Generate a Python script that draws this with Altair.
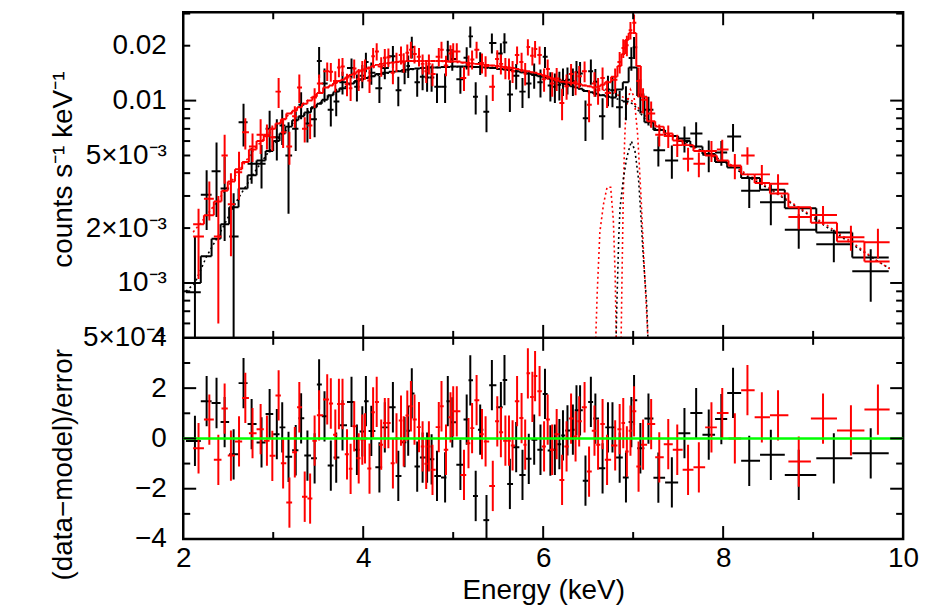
import altair as alt
import numpy as np
import pandas as pd

# ---------------- data ----------------
BLACK_E = [2.13, 2.26, 2.37, 2.46, 2.56, 2.67, 2.76, 2.87, 2.96, 3.04,
           3.10, 3.17, 3.25, 3.31, 3.38, 3.46, 3.51, 3.57, 3.64, 3.70,
           3.77, 3.87, 3.93, 3.99, 4.03, 4.09, 4.18, 4.24, 4.33, 4.39,
           4.46, 4.50, 4.54, 4.60, 4.66, 4.71, 4.76, 4.82, 4.91, 4.94,
           4.99, 5.08, 5.15, 5.19, 5.25, 5.30, 5.37, 5.43, 5.53, 5.57,
           5.63, 5.70, 5.77, 5.84, 5.90, 5.97, 6.02, 6.08, 6.13, 6.18,
           6.22, 6.27, 6.33, 6.37, 6.41, 6.47, 6.53, 6.58, 6.66, 6.72,
           6.77, 6.85, 6.92, 6.98, 7.01, 7.08, 7.17, 7.28, 7.43, 7.57,
           7.70, 7.84, 7.98, 8.11, 8.29, 8.53, 8.84, 9.23, 9.64]
BLACK_FIRST_LO = 2.03
BLACK_LAST_HI = 9.84
BLACK_MODEL = [1.0e-3, 1.4e-3, 1.75e-3, 2.1e-3, 2.6e-3, 3.3e-3, 3.9e-3, 4.7e-3, 5.3e-3, 6.0e-3,
               6.6e-3, 7.2e-3, 7.8e-3, 8.2e-3, 8.6e-3, 9.2e-3, 9.6e-3, 0.0101, 0.0107, 0.0112,
               0.0117, 0.0124, 0.0128, 0.0131, 0.0133, 0.0136, 0.0140, 0.0142, 0.0144, 0.0145,
               0.0147, 0.0148, 0.0149, 0.0150, 0.0151, 0.0151, 0.0152, 0.0152, 0.0153, 0.0153,
               0.0154, 0.0154, 0.0154, 0.0154, 0.0153, 0.0153, 0.0152, 0.0151, 0.0149, 0.0148,
               0.0147, 0.0145, 0.0143, 0.0141, 0.0139, 0.0136, 0.0134, 0.0132, 0.0129, 0.0127,
               0.0125, 0.0123, 0.0120, 0.0118, 0.0116, 0.0113, 0.0111, 0.0109, 0.0107, 0.0105,
               0.0104, 0.0115, 0.0126, 0.0152, 0.0152, 0.0106, 0.0076, 0.0069, 0.0064, 0.0060,
               0.0056, 0.0051, 0.0046, 0.0043, 0.00376, 0.00324, 0.00257, 0.00189, 0.00138]
BLACK_RATE = [8.9e-4, 3.05e-3, 4.1e-3, 3.3e-3, 1.8e-3, 7.6e-3, 4.5e-3, 4.5e-3, 7.0e-3, 6.3e-3,
              7.3e-3, 5.0e-3, 7.0e-3, 9.5e-3, 7.5e-3, 7.9e-3, 0.0165, 0.0124, 8.9e-3, 9.9e-3,
              0.0126, 0.0151, 0.0119, 0.0137, 0.0163, 0.0142, 0.0117, 0.0151, 0.0175, 0.0114,
              0.0144, 0.0155, 0.0197, 0.0126, 0.0135, 0.0134, 0.0134, 0.0119, 0.0119, 0.0189,
              0.0169, 0.0131, 0.0172, 0.0225, 0.0105, 0.0161, 0.0087, 0.0207, 0.0181, 0.0208,
              0.0108, 0.0137, 0.0112, 0.0124, 0.0138, 0.0126, 0.0174, 0.0121, 0.0119, 0.0122,
              0.0128, 0.0130, 0.0128, 0.0143, 0.0141, 0.0080, 0.0145, 0.0127, 0.0082, 0.0115,
              0.0114, 0.0092, 0.0099, 0.0171, 0.0196, 0.0108, 0.0089, 0.00535, 0.0047, 0.0062,
              0.0066, 0.00505, 0.0052, 0.00635, 0.0032, 0.00277, 0.00196, 0.00163, 0.00116]
BLACK_ERR = [9.0e-4, 1.1e-3, 1.8e-3, 1.6e-3, 1.3e-3, 2.0e-3, 1.0e-3, 1.2e-3, 1.8e-3, 1.6e-3,
             1.6e-3, 2.6e-3, 1.7e-3, 1.6e-3, 1.6e-3, 1.6e-3, 3.2e-3, 2.6e-3, 1.7e-3, 1.7e-3,
             1.8e-3, 1.9e-3, 2.0e-3, 2.0e-3, 2.0e-3, 2.0e-3, 2.0e-3, 2.0e-3, 2.4e-3, 2.1e-3,
             2.1e-3, 2.2e-3, 2.7e-3, 2.1e-3, 2.1e-3, 2.2e-3, 2.2e-3, 2.2e-3, 2.2e-3, 2.4e-3,
             2.3e-3, 2.2e-3, 2.4e-3, 3.0e-3, 2.1e-3, 2.3e-3, 2.0e-3, 2.6e-3, 2.5e-3, 2.6e-3,
             2.15e-3, 2.2e-3, 2.1e-3, 2.1e-3, 2.2e-3, 2.2e-3, 2.3e-3, 2.2e-3, 2.2e-3, 2.2e-3,
             2.2e-3, 2.2e-3, 2.2e-3, 2.2e-3, 2.2e-3, 2.0e-3, 2.3e-3, 2.2e-3, 2.1e-3, 2.2e-3,
             2.2e-3, 2.1e-3, 2.1e-3, 2.5e-3, 2.7e-3, 2.3e-3, 1.6e-3, 1.0e-3, 0.97e-3, 1.0e-3,
             1.0e-3, 1.0e-3, 0.8e-3, 1.1e-3, 0.62e-3, 0.7e-3, 0.42e-3, 0.33e-3, 0.37e-3]
BLACK_RESID = [-0.10, 1.48, 1.41, 0.65, -0.63, 2.20, 0.57, -0.16, 0.97, 0.17,
               0.44, -0.73, -0.47, 0.80, -0.68, -0.79, 2.15, 0.88, -1.08, -0.76,
               0.52, 1.45, -0.45, 0.28, 1.48, 0.30, -1.15, 0.44, 1.24, -1.49,
               -0.15, 0.31, 1.79, -1.12, -0.76, -0.76, -0.83, -1.49, -1.55, 1.48,
               0.64, -1.05, 0.75, 2.31, -2.29, 0.35, -3.25, 2.12, 1.24, 2.32,
               -1.81, -0.35, -1.45, -0.81, -0.05, -0.45, 1.77, -0.48, -0.45, -0.23,
               0.12, 0.32, 0.35, 1.12, 1.12, -1.68, 1.45, 0.79, -1.19, 0.44,
               0.44, -0.76, -1.55, 0.65, 1.52, -0.39, 0.79, -1.56, -1.75, 0.21,
               1.01, 0.15, 0.77, 1.81, -0.89, -0.65, -1.45, -0.79, -0.59]

RED_E = [2.17, 2.29, 2.39, 2.46, 2.53, 2.62, 2.69, 2.77, 2.86, 2.93,
         2.99, 3.06, 3.11, 3.18, 3.24, 3.29, 3.35, 3.41, 3.46, 3.51,
         3.60, 3.64, 3.69, 3.73, 3.77, 3.82, 3.86, 3.90, 3.95, 3.99,
         4.02, 4.07, 4.11, 4.15, 4.20, 4.24, 4.28, 4.33, 4.37, 4.42,
         4.45, 4.49, 4.53, 4.57, 4.62, 4.66, 4.70, 4.73, 4.77, 4.84,
         4.87, 4.92, 4.97, 5.00, 5.04, 5.12, 5.17, 5.21, 5.26, 5.32,
         5.36, 5.44, 5.49, 5.53, 5.58, 5.62, 5.66, 5.71, 5.76, 5.80,
         5.83, 5.88, 5.91, 5.96, 6.01, 6.05, 6.10, 6.15, 6.21, 6.26,
         6.31, 6.36, 6.40, 6.46, 6.51, 6.57, 6.61, 6.66, 6.71, 6.80,
         6.85, 6.89, 6.93, 6.97, 7.01, 7.06, 7.11, 7.20, 7.29, 7.39,
         7.49, 7.61, 7.73, 7.87, 7.99, 8.13, 8.27, 8.43, 8.61, 8.84,
         9.11, 9.42, 9.72]
RED_FIRST_LO = 2.11
RED_LAST_HI = 9.85
RED_MODEL = [2.1e-3, 2.35e-3, 2.8e-3, 3.2e-3, 3.6e-3, 4.2e-3, 4.6e-3, 5.4e-3, 6.0e-3, 6.5e-3,
             7.0e-3, 7.5e-3, 7.9e-3, 8.5e-3, 8.8e-3, 9.2e-3, 9.6e-3, 0.0100, 0.0105, 0.0110,
             0.0118, 0.0121, 0.0125, 0.0128, 0.0130, 0.0134, 0.0138, 0.0141, 0.0145, 0.0147,
             0.0149, 0.0152, 0.0155, 0.0157, 0.0159, 0.0160, 0.0161, 0.0162, 0.0163, 0.0164,
             0.0164, 0.0165, 0.0165, 0.0165, 0.0165, 0.0165, 0.0165, 0.0165, 0.0165, 0.0165,
             0.0165, 0.0165, 0.0164, 0.0164, 0.0164, 0.0162, 0.0161, 0.0160, 0.0159, 0.0158,
             0.0157, 0.0156, 0.0155, 0.0154, 0.0153, 0.0152, 0.0151, 0.0149, 0.0147, 0.0146,
             0.0145, 0.0143, 0.0142, 0.0140, 0.0137, 0.0135, 0.0132, 0.0129, 0.0127, 0.0126,
             0.0125, 0.0124, 0.0123, 0.0121, 0.0120, 0.0118, 0.0119, 0.0122, 0.0126, 0.0135,
             0.0155, 0.0180, 0.0215, 0.0235, 0.0235, 0.0155, 0.0105, 0.0077, 0.0072, 0.0066,
             0.00605, 0.0057, 0.0053, 0.0050, 0.0047, 0.0044, 0.00394, 0.00353, 0.00309, 0.0026,
             0.00214, 0.00169, 0.00131]
RED_RATE = [1.8e-3, 2.9e-3, 1.8e-3, 5.0e-3, 2.7e-3, 4.05e-3, 6.7e-3, 5.6e-3, 6.5e-3, 6.4e-3,
            6.3e-3, 0.0112, 6.7e-3, 5.6e-3, 8.2e-3, 0.0118, 7.0e-3, 7.3e-3, 0.0104, 0.0124,
            0.0145, 0.0144, 0.0128, 0.0152, 0.0154, 0.0123, 0.0117, 0.0150, 0.0131, 0.0146,
            0.0149, 0.0129, 0.0175, 0.0186, 0.0154, 0.0172, 0.0173, 0.0142, 0.0163, 0.0178,
            0.0162, 0.0183, 0.0190, 0.0180, 0.0174, 0.0159, 0.0145, 0.0159, 0.0140, 0.0174,
            0.0190, 0.0156, 0.0181, 0.0186, 0.0186, 0.0133, 0.0157, 0.0168, 0.0190, 0.0161,
            0.0155, 0.0119, 0.0169, 0.0159, 0.0151, 0.0150, 0.0145, 0.0178, 0.0163, 0.0141,
            0.0197, 0.0176, 0.0192, 0.0178, 0.0131, 0.0149, 0.0124, 0.0132, 0.0097, 0.0120,
            0.0140, 0.0126, 0.0136, 0.0145, 0.0095, 0.0124, 0.0114, 0.0133, 0.0110, 0.0130,
            0.0163, 0.0194, 0.0201, 0.0243, 0.0267, 0.0128, 0.0101, 0.0085, 0.0065, 0.0064,
            0.0057, 0.0048, 0.0045, 0.0053, 0.0054, 0.0044, 0.0050, 0.00394, 0.0035, 0.0023,
            0.00236, 0.00178, 0.00167]
RED_ERR = [0.75e-3, 0.7e-3, 1.2e-3, 1.5e-3, 1.3e-3, 1.2e-3, 1.3e-3, 1.0e-3, 1.4e-3, 1.0e-3,
           1.0e-3, 2.1e-3, 1.2e-3, 1.15e-3, 1.1e-3, 2.1e-3, 1.1e-3, 1.15e-3, 1.3e-3, 1.5e-3,
           1.7e-3, 1.7e-3, 1.7e-3, 1.75e-3, 1.75e-3, 1.75e-3, 1.75e-3, 1.8e-3, 1.8e-3, 1.9e-3,
           1.9e-3, 1.9e-3, 1.95e-3, 2.0e-3, 1.9e-3, 2.0e-3, 2.0e-3, 1.9e-3, 2.0e-3, 2.0e-3,
           2.0e-3, 2.0e-3, 2.0e-3, 2.0e-3, 2.0e-3, 2.0e-3, 2.0e-3, 2.0e-3, 2.0e-3, 2.0e-3,
           2.0e-3, 2.0e-3, 2.0e-3, 2.0e-3, 2.0e-3, 2.0e-3, 2.0e-3, 2.0e-3, 2.0e-3, 2.0e-3,
           2.0e-3, 1.95e-3, 2.0e-3, 2.0e-3, 2.0e-3, 2.0e-3, 2.0e-3, 2.0e-3, 2.0e-3, 2.0e-3,
           2.0e-3, 2.0e-3, 2.0e-3, 2.0e-3, 1.9e-3, 1.9e-3, 1.9e-3, 1.9e-3, 1.9e-3, 1.9e-3,
           1.9e-3, 1.9e-3, 1.9e-3, 1.9e-3, 1.9e-3, 1.9e-3, 1.9e-3, 1.9e-3, 1.9e-3, 2.0e-3,
           2.2e-3, 2.3e-3, 2.6e-3, 2.7e-3, 3.0e-3, 2.4e-3, 1.6e-3, 1.4e-3, 0.9e-3, 0.9e-3,
           0.8e-3, 0.72e-3, 0.7e-3, 0.7e-3, 0.7e-3, 0.7e-3, 0.55e-3, 0.49e-3, 0.45e-3, 0.33e-3,
           0.28e-3, 0.28e-3, 0.31e-3]
RED_RESID = [-0.39, 0.75, -0.85, 1.19, -0.68, -0.12, 1.61, 0.21, 0.37, -0.09,
             -0.69, 1.71, -0.99, -2.55, -0.55, 1.24, -2.32, -2.39, -0.09, 0.92,
             1.55, 1.39, 0.15, 1.37, 1.37, -0.63, -1.21, 0.48, -0.79, -0.05,
             0.00, -1.20, 1.04, 1.45, -0.25, 0.61, 0.61, -0.99, 0.00, 0.71,
             -0.12, 0.91, 1.28, 0.75, 0.45, -0.32, -1.01, -0.32, -1.25, 0.45,
             1.28, -0.45, 0.84, 1.08, 1.08, -1.45, -0.19, 0.41, 1.52, 0.17,
             -0.12, -1.89, 0.68, 0.25, -0.09, -0.09, -0.28, 1.48, 0.81, -0.25,
             2.59, 1.65, 2.48, 1.88, -0.32, 0.75, -0.45, 0.17, -1.65, -0.32,
             0.79, 0.08, 0.68, 1.24, -1.32, 0.31, -0.25, 0.57, -0.85, -0.28,
             0.37, 0.61, -0.52, 0.31, 1.08, -1.12, -0.25, 0.57, -0.75, -0.23,
             -0.45, -1.25, -1.15, 0.44, 1.01, 0.00, 1.92, 0.84, 0.92, -0.92,
             0.79, 0.32, 1.15]

# continuum components (dotted)
BLACK_CONT_E = [2.03, 2.13, 2.26, 2.40, 2.60, 2.80, 3.00, 3.20, 3.40, 3.60,
                3.80, 4.00, 4.40, 4.80, 5.20, 5.60, 6.00, 6.40, 6.80, 7.00,
                7.10, 7.20, 7.40, 7.60, 7.80, 8.00, 8.30, 8.55, 8.85, 9.25,
                9.65, 9.85]
BLACK_CONT = [9.0e-4, 1.0e-3, 1.4e-3, 1.85e-3, 2.85e-3, 4.1e-3, 5.7e-3, 7.4e-3, 8.8e-3, 0.0104,
              0.0119, 0.0132, 0.0146, 0.0152, 0.0154, 0.0148, 0.0135, 0.0116, 0.0103, 0.0096,
              0.0083, 0.0072, 0.0065, 0.0059, 0.0052, 0.00465, 0.00376, 0.0032, 0.00255, 0.00188,
              0.00138, 0.0012]
RED_CONT_E = [2.11, 2.20, 2.40, 2.60, 2.80, 3.00, 3.20, 3.40, 3.60, 3.80,
              4.00, 4.40, 4.80, 5.20, 5.60, 6.00, 6.40, 6.60, 6.80, 7.00,
              7.10, 7.20, 7.40, 7.60, 7.80, 8.00, 8.27, 8.43, 8.61, 8.84,
              9.11, 9.42, 9.72, 9.85]
RED_CONT = [1.9e-3, 2.15e-3, 2.9e-3, 4.0e-3, 5.5e-3, 7.0e-3, 8.6e-3, 0.0102, 0.0118, 0.0132,
            0.0147, 0.0164, 0.0165, 0.0160, 0.0152, 0.0138, 0.0123, 0.0117, 0.0109, 0.0099,
            0.0086, 0.0076, 0.0065, 0.00575, 0.00515, 0.0047, 0.00394, 0.00353, 0.00309, 0.0026,
            0.00214, 0.00169, 0.00131, 0.0012]
# Gaussian line components (dotted)
RED_G1_E = [6.57, 6.60, 6.63, 6.67, 6.71, 6.75, 6.78, 6.80, 6.82]
RED_G1 = [3e-4, 8.7e-4, 1.9e-3, 2.7e-3, 3.35e-3, 3.35e-3, 2.2e-3, 1.1e-3, 3e-4]
RED_G2_E = [6.86, 6.875, 6.89, 6.905, 6.92, 6.97, 7.01, 7.05, 7.09, 7.12, 7.16, 7.18]
RED_G2 = [3e-4, 1.0e-3, 3.0e-3, 6.0e-3, 9.0e-3, 0.0115, 0.0105, 6.5e-3, 2.8e-3, 1.3e-3, 5.5e-4, 3e-4]
BLACK_G_E = [6.80, 6.82, 6.84, 6.855, 6.89, 6.93, 6.98, 7.02, 7.06, 7.08, 7.11, 7.15, 7.18]
BLACK_G = [3e-4, 8e-4, 1.8e-3, 2.6e-3, 3.7e-3, 4.9e-3, 6.0e-3, 5.3e-3, 3.7e-3, 2.6e-3, 1.45e-3, 7.7e-4, 3e-4]

# axes
X_DOMAIN = [2, 10]
X_LABELS = [2, 4, 6, 8, 10]
X_MAJOR = [4, 6, 8]
X_MINOR = [3, 5, 7, 9]
TOP_DOMAIN = [5e-4, 0.0305]
TOP_LABEL_VALUES = [5e-4, 1e-3, 2e-3, 5e-3, 0.01, 0.02]
TOP_LABEL_TEXT = ["5×10⁻⁴", "10⁻³", "2×10⁻³", "5×10⁻³", "0.01", "0.02"]
TOP_MAJOR = [1e-3, 1e-2]
TOP_MINOR = [6e-4, 7e-4, 8e-4, 9e-4, 2e-3, 3e-3, 4e-3, 5e-3, 6e-3, 7e-3, 8e-3, 9e-3, 0.02, 0.03]
RES_DOMAIN = [-4, 4]
RES_LABELS = [-4, -2, 0, 2, 4]
RES_MAJOR = [-2, 0, 2]
RES_MINOR = [-3, -1, 1, 3]

W, H1, H2 = 723, 327, 202
FONT = "Liberation Sans"
FS = 28
MAJ, MIN = 13, 7


def make_df(E, rate, err, model, resid, first_lo, last_hi):
    E = np.asarray(E, float)
    mids = (E[:-1] + E[1:]) / 2
    df = pd.DataFrame(dict(E=E, lo=np.r_[first_lo, mids], hi=np.r_[mids, last_hi],
                           rate=rate, err=err, model=model, resid=resid))
    df["ylo"] = np.maximum(df["rate"] - df["err"], 1e-4)
    df["yhi"] = df["rate"] + df["err"]
    df["rlo"] = df["resid"] - 1
    df["rhi"] = df["resid"] + 1
    return df


black = make_df(BLACK_E, BLACK_RATE, BLACK_ERR, BLACK_MODEL, BLACK_RESID, BLACK_FIRST_LO, BLACK_LAST_HI)
red = make_df(RED_E, RED_RATE, RED_ERR, RED_MODEL, RED_RESID, RED_FIRST_LO, RED_LAST_HI)

XS = alt.Scale(domain=X_DOMAIN, nice=False, zero=False)
YS_TOP = alt.Scale(type="log", domain=TOP_DOMAIN, nice=False)
YS_RES = alt.Scale(domain=RES_DOMAIN, nice=False, zero=False)

expr_parts = []
bounds = [7e-4, 1.5e-3, 3e-3, 7e-3, 0.015]
for b, t in zip(bounds, TOP_LABEL_TEXT[:-1]):
    expr_parts.append(f"datum.value < {b} ? '{t}' : ")
top_label_expr = "".join(expr_parts) + f"'{TOP_LABEL_TEXT[-1]}'"

TOP_Y_AXIS = alt.Axis(values=TOP_LABEL_VALUES, labelExpr=top_label_expr, ticks=False, domain=False,
                      grid=False, labelFont=FONT, labelFontSize=FS, labelColor="black", labelPadding=17,
                      labelOverlap=False, title="counts s⁻¹ keV⁻¹", titleFont=FONT, titleFontSize=FS,
                      titleFontWeight="normal", titleColor="black", titleX=-120, titleY=H1 / 2 - 6,
                      titleAngle=270, titleBaseline="middle", titleAlign="center")
RES_Y_AXIS = alt.Axis(values=RES_LABELS, labelExpr="datum.value < 0 ? '−' + abs(datum.value) : '' + datum.value",
                      ticks=False, domain=False, grid=False, labelFont=FONT, labelFontSize=FS,
                      labelColor="black", labelPadding=17, labelOverlap=False,
                      title="(data−model)/error", titleFont=FONT, titleFontSize=FS, titleFontWeight="normal",
                      titleColor="black", titleX=-120, titleY=H2 / 2 + 26, titleAngle=270,
                      titleBaseline="middle", titleAlign="center")
RES_X_AXIS = alt.Axis(values=X_LABELS, format="d", ticks=False, domain=False, grid=False, labelFont=FONT,
                      labelFontSize=FS, labelColor="black", labelPadding=6, labelFlush=False,
                      labelOverlap=False, title="Energy (keV)", titleFont=FONT, titleFontSize=FS,
                      titleFontWeight="normal", titleColor="black", titlePadding=4)


def xt(f):
    return alt.X(f"{f}:Q", scale=XS, axis=None)


def xr(f):
    return alt.X(f"{f}:Q", scale=XS, axis=RES_X_AXIS)


def yt(f):
    return alt.Y(f"{f}:Q", scale=YS_TOP, axis=TOP_Y_AXIS)


def yr(f):
    return alt.Y(f"{f}:Q", scale=YS_RES, axis=RES_Y_AXIS)


def rule(df, color, width=2):
    return alt.Chart(df).mark_rule(color=color, strokeWidth=width, clip=True)


def dotted(E, v, color):
    d = pd.DataFrame({"E": E, "v": v})
    return alt.Chart(d).mark_line(color=color, strokeWidth=1.6, strokeDash=[2, 3], clip=True).encode(
        x=xt("E"), y=yt("v"))


def spectrum(df, color):
    return [
        rule(df, color).encode(x=xt("lo"), x2="hi:Q", y=yt("rate")),
        rule(df, color).encode(x=xt("E"), y=yt("ylo"), y2="yhi:Q"),
        rule(df, color).encode(x=xt("lo"), x2="hi:Q", y=yt("model")),
        rule(df, color).transform_window(next_model="lead(model)", sort=[alt.SortField("E")])
        .transform_filter("isValid(datum.next_model)")
        .encode(x=xt("hi"), y=yt("model"), y2="next_model:Q"),
    ]


def residuals(df, color):
    return [
        rule(df, color).encode(x=xr("lo"), x2="hi:Q", y=yr("resid")),
        rule(df, color).encode(x=xr("E"), y=yr("rlo"), y2="rhi:Q"),
    ]


def vticks(vals, length, yenc):
    d = pd.DataFrame({"v": vals})
    out = []
    for x0, x1 in [(0, length), (W, W - length)]:
        out.append(alt.Chart(d).mark_rule(color="black", strokeWidth=2)
                   .encode(y=yenc("v"), x=alt.value(x0), x2=alt.value(x1)))
    return out


def hticks(vals, length, xenc, height):
    d = pd.DataFrame({"v": vals})
    out = []
    for y0, y1 in [(0, length), (height, height - length)]:
        out.append(alt.Chart(d).mark_rule(color="black", strokeWidth=2)
                   .encode(x=xenc("v"), y=alt.value(y0), y2=alt.value(y1)))
    return out


top_layers = (
    [dotted(BLACK_CONT_E, BLACK_CONT, "black"), dotted(RED_CONT_E, RED_CONT, "red"),
     dotted(RED_G1_E, RED_G1, "red"), dotted(RED_G2_E, RED_G2, "red"),
     dotted(BLACK_G_E, BLACK_G, "black")]
    + spectrum(black, "black") + spectrum(red, "red")
    + vticks(TOP_MAJOR, MAJ, yt) + vticks(TOP_MINOR, MIN, yt)
    + hticks(X_MAJOR, MAJ, xt, H1) + hticks(X_MINOR, MIN, xt, H1)
)
top = alt.layer(*top_layers).properties(width=W, height=H1)

zero = alt.Chart(pd.DataFrame({"z": [0]})).mark_rule(color="#00ff00", strokeWidth=2.5).encode(y=yr("z"))
bottom_layers = (
    residuals(black, "black") + residuals(red, "red") + [zero]
    + vticks(RES_MAJOR, MAJ, yr) + vticks(RES_MINOR, MIN, yr)
    + hticks(X_MAJOR, MAJ, xr, H2) + hticks(X_MINOR, MIN, xr, H2)
)
bottom = alt.layer(*bottom_layers).properties(width=W, height=H2)

chart = (
    alt.vconcat(top, bottom, spacing=0, bounds="flush")
    .properties(padding={"left": 40, "top": 0, "right": 10, "bottom": 0}, background="white")
    .configure_view(stroke="black", strokeWidth=2.5)
)

chart.save("out.html", embed_options={"renderer": "svg", "actions": False})
